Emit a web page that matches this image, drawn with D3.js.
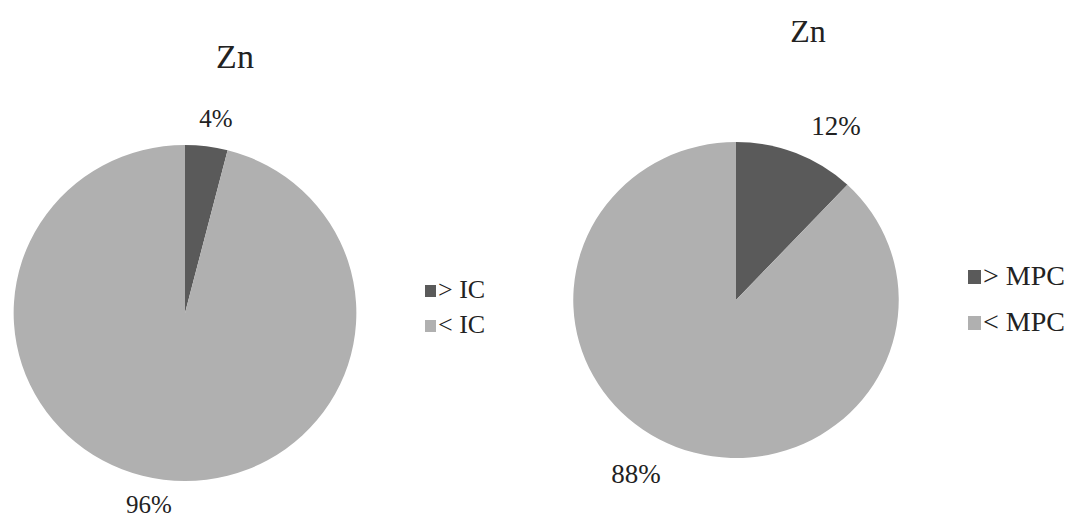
<!DOCTYPE html>
<html>
<head>
<meta charset="utf-8">
<script src="https://cdn.jsdelivr.net/npm/d3@7"></script>
<style>
  body { margin: 0; background: #fff; }
  text { font-family: "Times New Roman", Times, "Liberation Serif", Tinos, serif; fill: #222; }
</style>
</head>
<body>
<svg id="chart" width="1073" height="519"></svg>
<script>
// data
const titles = ["Zn", "Zn"]
const leftLabels = ["> IC", "< IC"]
const leftValues = [4, 96]
const rightLabels = ["> MPC", "< MPC"]
const rightValues = [12, 88]
const sliceColors = ["#5a5a5a", "#b0b0b0"]

const svg = d3.select("#chart")

// layout for the two panels (positions only)
const panels = [
  {
    title: titles[0], labels: leftLabels, values: leftValues,
    cx: 185, cy: 313, r: 168, sx: 1.02,
    titleX: 235, titleY: 68, titleSize: 34,
    valueSize: 25,
    valuePos: [[216, 127], [149, 513]],
    legendX: 425, legendY: [285, 320], box: 11, legendSize: 26
  },
  {
    title: titles[1], labels: rightLabels, values: rightValues,
    cx: 736, cy: 300, r: 158, sx: 1.03,
    titleX: 808, titleY: 42, titleSize: 32,
    valueSize: 27,
    valuePos: [[836, 135], [636, 483]],
    legendX: 968, legendY: [270, 316], box: 13, legendSize: 28
  }
]

const color = d3.scaleOrdinal().range(sliceColors)
const pie = d3.pie().sort(null).value(d => d)

panels.forEach((p, pi) => {
  color.domain(p.labels)
  const arc = d3.arc().innerRadius(0).outerRadius(p.r)

  const g = svg.append("g")
    .attr("id", `pie-${pi}`)
    .attr("transform", `translate(${p.cx},${p.cy}) scale(${p.sx},1)`)

  g.selectAll("path")
    .data(pie(p.values))
    .join("path")
    .attr("d", arc)
    .attr("fill", (d, i) => color(p.labels[i]))

  // title
  svg.append("text")
    .attr("x", p.titleX)
    .attr("y", p.titleY)
    .attr("text-anchor", "middle")
    .style("font-size", p.titleSize + "px")
    .text(p.title)

  // percentage labels
  svg.append("g")
    .selectAll("text")
    .data(p.values)
    .join("text")
    .attr("x", (d, i) => p.valuePos[i][0])
    .attr("y", (d, i) => p.valuePos[i][1])
    .attr("text-anchor", "middle")
    .style("font-size", p.valueSize + "px")
    .text(d => d + "%")

  // legend
  const lg = svg.append("g")
    .selectAll("g")
    .data(p.labels)
    .join("g")
    .attr("transform", (d, i) => `translate(${p.legendX},${p.legendY[i]})`)

  lg.append("rect")
    .attr("width", p.box)
    .attr("height", p.box + 1)
    .attr("fill", d => color(d))

  lg.append("text")
    .attr("x", p.box + 2)
    .attr("y", p.box + 2)
    .style("font-size", p.legendSize + "px")
    .text(d => d)
})
</script>
</body>
</html>
